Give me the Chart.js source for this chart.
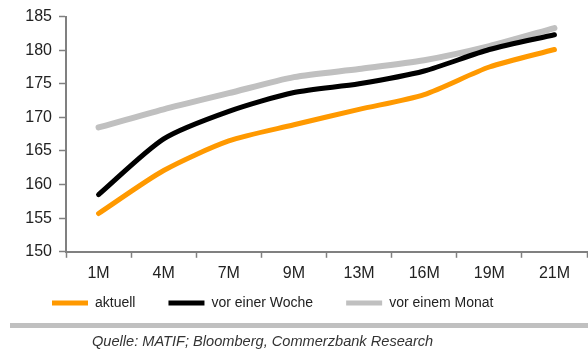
<!DOCTYPE html>
<html lang="de">
<head>
<meta charset="utf-8">
<script src="https://cdn.jsdelivr.net/npm/chart.js@4/dist/chart.umd.min.js"></script>
<style>
  html, body { margin: 0; padding: 0; background: #fff; }
  #wrap { position: relative; width: 588px; height: 354px; overflow: hidden; }
  #chart { position: absolute; left: 0; top: 0; }
  #rule { position: absolute; left: 10px; top: 323px; width: 578px; height: 5px; background: #c0c0c0; }
  #source { position: absolute; left: 92px; top: 333px; font: italic 14.6px "Liberation Sans", Arial, sans-serif; color: #333; white-space: nowrap; }
</style>
</head>
<body>
<div id="wrap">
  <canvas id="chart" width="588" height="354"></canvas>
  <div id="rule"></div>
  <div id="source">Quelle: MATIF; Bloomberg, Commerzbank Research</div>
</div>
<script>
// Laufzeiten (Monate)
const categories = ['1M', '4M', '7M', '9M', '13M', '16M', '19M', '21M'];
// Kurven
const aktuell = [155.7, 162.1, 166.5, 168.9, 171.2, 173.4, 177.5, 180.1];
const vorEinerWoche = [158.5, 166.8, 170.9, 173.7, 175.0, 176.9, 180.1, 182.3];
const vorEinemMonat = [168.5, 171.2, 173.6, 176.0, 177.2, 178.5, 180.6, 183.3];
const yTicks = [150, 155, 160, 165, 170, 175, 180, 185];

Chart.defaults.font.family = '"Liberation Sans", Arial, sans-serif';
Chart.defaults.color = '#222';

const axisGrey = '#808080';

// places the legend row: first entry at x = 52, row centred on y = 303
const legendPlace = {
  id: 'legendPlace',
  afterLayout(chart) {
    const lg = chart.legend;
    if (!lg) return;
    const pad = lg.options.labels.padding;
    const w = lg.right - lg.left;
    const h = lg.bottom - lg.top;
    lg.left = 52 - pad;
    lg.right = lg.left + w;
    lg.top = 303 - 7 - pad;
    lg.bottom = lg.top + h;
  }
};

function series(label, data, color, width) {
  return {
    label, data,
    borderColor: color,
    backgroundColor: color,
    borderWidth: width,
    pointRadius: 0,
    tension: 0.25,
    borderCapStyle: 'round',
    borderJoinStyle: 'round',
    fill: false
  };
}

new Chart(document.getElementById('chart'), {
  type: 'line',
  data: {
    labels: categories,
    datasets: [
      series('aktuell', aktuell, '#ff9900', 5),
      series('vor einer Woche', vorEinerWoche, '#000000', 5),
      series('vor einem Monat', vorEinemMonat, '#c0c0c0', 6)
    ]
  },
  options: {
    responsive: false,
    animation: false,
    layout: { padding: { top: 14, right: 1, left: 0, bottom: 8 } },
    plugins: {
      tooltip: { enabled: false },
      legend: {
        position: 'bottom',
        align: 'start',
        labels: {
          boxWidth: 36,
          boxHeight: 5,
          padding: 33,
          color: '#222',
          font: { size: 14 },
          generateLabels(chart) {
            return Chart.defaults.plugins.legend.labels.generateLabels(chart)
              .map(l => Object.assign({}, l, { lineWidth: 0, fillStyle: l.strokeStyle }));
          }
        }
      }
    },
    scales: {
      x: {
        type: 'category',
        offset: true,
        grid: {
          offset: true,
          drawOnChartArea: false,
          drawTicks: true,
          tickLength: 6,
          tickColor: axisGrey,
          tickWidth: 1.5
        },
        border: { color: axisGrey, width: 2 },
        ticks: { padding: 6, font: { size: 16 }, color: '#222', maxRotation: 0, autoSkip: false }
      },
      y: {
        min: 150,
        max: 185,
        afterFit(scale) { scale.width = 66; },
        afterBuildTicks(scale) { scale.ticks = yTicks.map(v => ({ value: v })); },
        grid: {
          drawOnChartArea: false,
          drawTicks: true,
          tickLength: 7,
          tickColor: axisGrey,
          tickWidth: 1.5
        },
        border: { color: axisGrey, width: 2 },
        ticks: { padding: 7, font: { size: 16 }, color: '#222' }
      }
    }
  },
  plugins: [legendPlace]
});
</script>
</body>
</html>
